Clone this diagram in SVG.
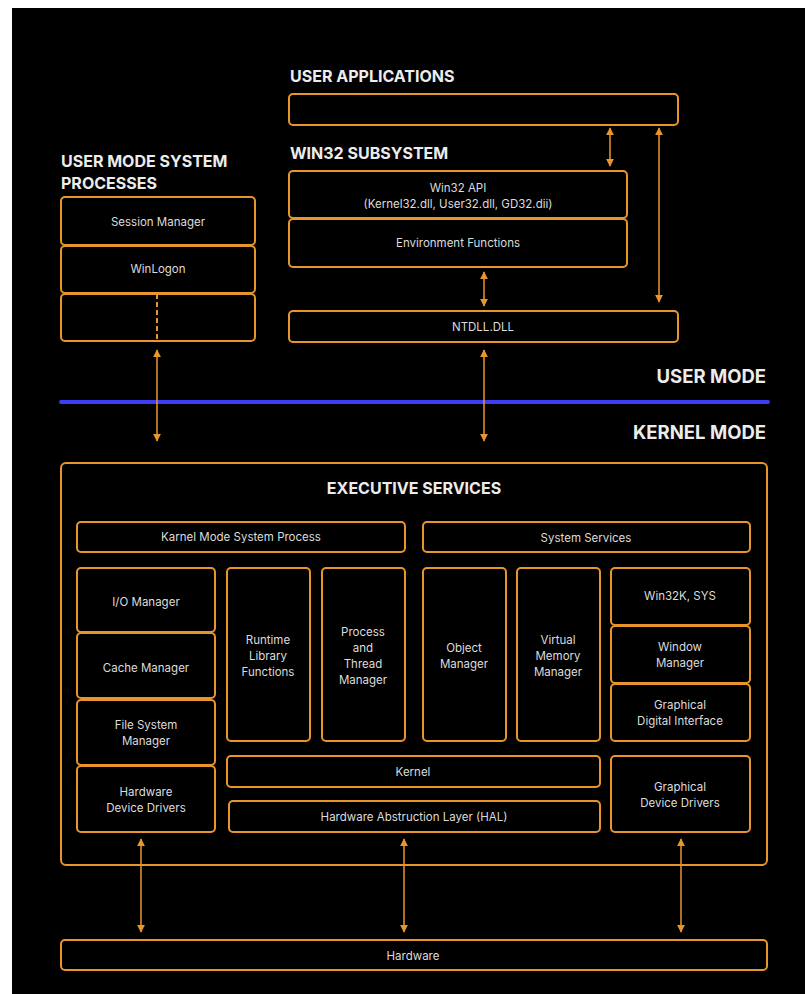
<svg xmlns="http://www.w3.org/2000/svg" width="805" height="994" viewBox="0 0 805 994">
<defs>
<style>
.box{fill:#000;stroke:#e8962c;stroke-width:2}
.t{font-family:Inter,"Noto Sans","Liberation Sans",sans-serif;font-size:11.5px;fill:#dcdcdc;text-anchor:middle}
.h{font-family:Inter,"Noto Sans","Liberation Sans",sans-serif;font-size:16px;font-weight:700;fill:#ececec}
.m{font-family:Inter,"Noto Sans","Liberation Sans",sans-serif;font-size:18.5px;font-weight:700;fill:#ececec;text-anchor:end}
.c{stroke:#e8962c;stroke-width:1.5;fill:none}
</style>
<marker id="ah" viewBox="0 0 10 10" refX="9" refY="5" markerWidth="8" markerHeight="8" markerUnits="userSpaceOnUse" orient="auto-start-reverse">
<path d="M0,0 L10,5 L0,10 Z" fill="#e8962c"/>
</marker>
</defs>
<rect x="0" y="0" width="805" height="994" fill="#fff"/>
<rect x="12" y="8" width="793" height="986" fill="#000"/>

<g id="labels">
<text class="h" x="290" y="82">USER APPLICATIONS</text>
<text class="h" x="290" y="159">WIN32 SUBSYSTEM</text>
<text class="h" x="61" y="167">USER MODE SYSTEM</text>
<text class="h" x="61" y="189">PROCESSES</text>
<text class="m" x="766" y="383">USER MODE</text>
<text class="m" x="766" y="439">KERNEL MODE</text>
</g>

<line id="divider" x1="61" y1="402" x2="768" y2="402" stroke="#3d3df5" stroke-width="4" stroke-linecap="round"/>

<g id="user-applications"><rect class="box" x="289" y="94" width="389" height="31" rx="4"/></g>
<g id="win32-api"><rect class="box" x="289" y="171" width="338" height="47" rx="4"/>
<text class="t" x="458" y="192">Win32 API</text>
<text class="t" x="458" y="208">(Kernel32.dll, User32.dll, GD32.dii)</text></g>
<g id="environment-functions"><rect class="box" x="289" y="219" width="338" height="48" rx="4"/>
<text class="t" x="458" y="247">Environment Functions</text></g>
<g id="ntdll"><rect class="box" x="289" y="311" width="389" height="31" rx="4"/>
<text class="t" x="483" y="331">NTDLL.DLL</text></g>

<g id="session-manager"><rect class="box" x="61" y="197" width="194" height="48" rx="4"/>
<text class="t" x="158" y="226">Session Manager</text></g>
<g id="winlogon"><rect class="box" x="61" y="246" width="194" height="47" rx="4"/>
<text class="t" x="158" y="273">WinLogon</text></g>
<g id="empty-process"><rect class="box" x="61" y="294" width="194" height="47" rx="4"/>
<line x1="157" y1="294" x2="157" y2="341" stroke="#e8962c" stroke-width="2" stroke-dasharray="5,3"/></g>

<g id="executive-services"><rect class="box" x="61" y="463" width="706" height="402" rx="5"/>
<text class="h" x="414" y="494" text-anchor="middle">EXECUTIVE SERVICES</text></g>

<g id="kernel-mode-system-process"><rect class="box" x="77" y="522" width="328" height="30" rx="4"/>
<text class="t" x="241" y="541">Karnel Mode System Process</text></g>
<g id="system-services"><rect class="box" x="423" y="522" width="327" height="30" rx="4"/>
<text class="t" x="586" y="542">System Services</text></g>

<g id="io-manager"><rect class="box" x="77" y="568" width="138" height="64" rx="4"/>
<text class="t" x="146" y="606">I/O Manager</text></g>
<g id="cache-manager"><rect class="box" x="77" y="633" width="138" height="65" rx="4"/>
<text class="t" x="146" y="672">Cache Manager</text></g>
<g id="file-system-manager"><rect class="box" x="77" y="700" width="138" height="65" rx="4"/>
<text class="t" x="146" y="729">File System</text>
<text class="t" x="146" y="745">Manager</text></g>
<g id="hardware-device-drivers"><rect class="box" x="77" y="766" width="138" height="66" rx="4"/>
<text class="t" x="146" y="796">Hardware</text>
<text class="t" x="146" y="812">Device Drivers</text></g>

<g id="runtime-library"><rect class="box" x="227" y="568" width="83" height="173" rx="4"/>
<text class="t" x="268" y="644">Runtime</text>
<text class="t" x="268" y="660">Library</text>
<text class="t" x="268" y="676">Functions</text></g>
<g id="process-thread-manager"><rect class="box" x="322" y="568" width="83" height="173" rx="4"/>
<text class="t" x="363" y="636">Process</text>
<text class="t" x="363" y="652">and</text>
<text class="t" x="363" y="668">Thread</text>
<text class="t" x="363" y="684">Manager</text></g>
<g id="object-manager"><rect class="box" x="423" y="568" width="83" height="173" rx="4"/>
<text class="t" x="464" y="652">Object</text>
<text class="t" x="464" y="668">Manager</text></g>
<g id="virtual-memory-manager"><rect class="box" x="517" y="568" width="83" height="173" rx="4"/>
<text class="t" x="558" y="644">Virtual</text>
<text class="t" x="558" y="660">Memory</text>
<text class="t" x="558" y="676">Manager</text></g>

<g id="win32k-sys"><rect class="box" x="611" y="568" width="139" height="57" rx="4"/>
<text class="t" x="680" y="600">Win32K, SYS</text></g>
<g id="window-manager"><rect class="box" x="611" y="626" width="139" height="57" rx="4"/>
<text class="t" x="680" y="651">Window</text>
<text class="t" x="680" y="667">Manager</text></g>
<g id="graphical-digital-interface"><rect class="box" x="611" y="684" width="139" height="57" rx="4"/>
<text class="t" x="680" y="709">Graphical</text>
<text class="t" x="680" y="725">Digital Interface</text></g>

<g id="kernel"><rect class="box" x="227" y="756" width="373" height="31" rx="4"/>
<text class="t" x="413" y="776">Kernel</text></g>
<g id="hal"><rect class="box" x="229" y="801" width="371" height="31" rx="4"/>
<text class="t" x="414" y="821">Hardware Abstruction Layer (HAL)</text></g>
<g id="graphical-device-drivers"><rect class="box" x="611" y="756" width="139" height="76" rx="4"/>
<text class="t" x="680" y="791">Graphical</text>
<text class="t" x="680" y="807">Device Drivers</text></g>

<g id="hardware"><rect class="box" x="61" y="940" width="706" height="30" rx="4"/>
<text class="t" x="413" y="960">Hardware</text></g>

<g id="connectors">
<line class="c" x1="610" y1="128" x2="610" y2="166" marker-start="url(#ah)" marker-end="url(#ah)"/>
<line class="c" x1="659" y1="128" x2="659" y2="302" marker-start="url(#ah)" marker-end="url(#ah)"/>
<line class="c" x1="484" y1="272" x2="484" y2="306" marker-start="url(#ah)" marker-end="url(#ah)"/>
<line class="c" x1="157" y1="350" x2="157" y2="441" marker-start="url(#ah)" marker-end="url(#ah)"/>
<line class="c" x1="484" y1="350" x2="484" y2="441" marker-start="url(#ah)" marker-end="url(#ah)"/>
<line class="c" x1="141" y1="839" x2="141" y2="932" marker-start="url(#ah)" marker-end="url(#ah)"/>
<line class="c" x1="404" y1="839" x2="404" y2="932" marker-start="url(#ah)" marker-end="url(#ah)"/>
<line class="c" x1="681" y1="839" x2="681" y2="932" marker-start="url(#ah)" marker-end="url(#ah)"/>
</g>
</svg>
